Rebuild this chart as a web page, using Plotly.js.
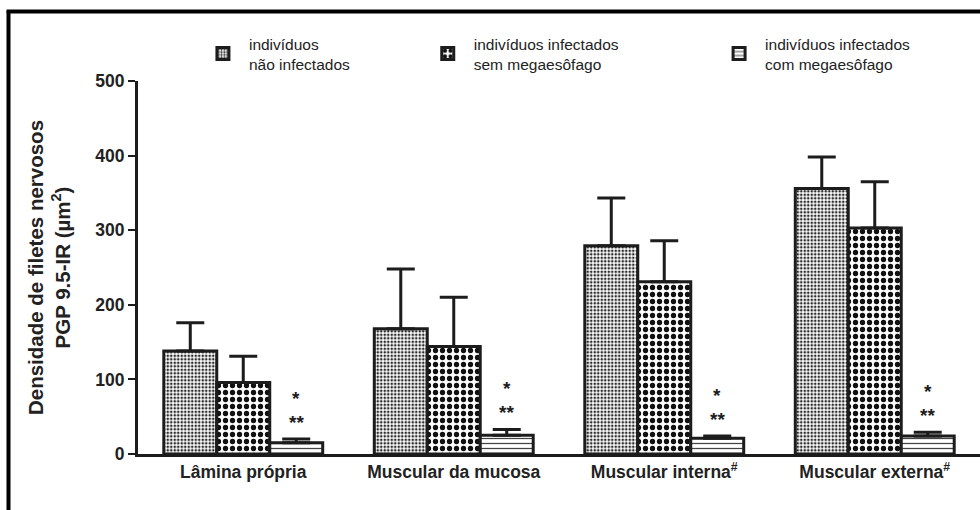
<!DOCTYPE html>
<html>
<head>
<meta charset="utf-8">
<script src="https://cdn.plot.ly/plotly-3.0.1.min.js"></script>
<style>
  html, body { margin: 0; padding: 0; background: #fff; }
  #chart { width: 980px; height: 510px; }
</style>
</head>
<body>
<div id="chart"></div>
<script>
// Regions of the esophageal wall
const categories = [
  'Lâmina própria',
  'Muscular da mucosa',
  'Muscular interna<sup>#</sup>',
  'Muscular externa<sup>#</sup>'
];

// Group names
const groupNames = [
  'indivíduos<br>não infectados',
  'indivíduos infectados<br>sem megaesôfago',
  'indivíduos infectados<br>com megaesôfago'
];

// Mean density of PGP 9.5-IR nerve fibres (µm²) and standard deviation
const naoInfectados = [138, 168, 279, 356];
const naoInfectadosSd = [38, 80, 64, 42];
const semMegaesofago = [96, 144, 231, 303];
const semMegaesofagoSd = [35, 66, 55, 62];
const comMegaesofago = [15, 25, 21, 24];
const comMegaesofagoSd = [5, 8, 3, 5];

// Significance marks over the megaesophagus group
const marksTop = ['*', '*', '*', '*'];
const marksBottom = ['**', '**', '**', '**'];

const yTicks = [0, 100, 200, 300, 400, 500];

const ink = '#1c1c1c';
const sans = 'Liberation Sans, Arial, sans-serif';
const outline = { color: ink, width: 3 };

function errorBars(sd) {
  return {
    type: 'data', symmetric: false, array: sd,
    arrayminus: sd.map(() => 0),
    color: ink, thickness: 3, width: 14
  };
}

const traces = [
  {
    type: 'bar', name: groupNames[0], x: categories, y: naoInfectados,
    error_y: errorBars(naoInfectadosSd),
    marker: {
      color: '#ffffff', line: outline,
      pattern: { shape: '.', size: 3.5, solidity: 0.45, fgcolor: '#2a2a2a', bgcolor: '#ffffff', fillmode: 'replace' }
    },
    legend: 'legend'
  },
  {
    type: 'bar', name: groupNames[1], x: categories, y: semMegaesofago,
    error_y: errorBars(semMegaesofagoSd),
    marker: {
      color: '#ffffff', line: outline,
      pattern: { shape: '.', size: 7, solidity: 0.45, fgcolor: '#111111', bgcolor: '#ffffff', fillmode: 'replace' }
    },
    legend: 'legend2'
  },
  {
    type: 'bar', name: groupNames[2], x: categories, y: comMegaesofago,
    error_y: errorBars(comMegaesofagoSd),
    marker: {
      color: '#ffffff', line: outline,
      pattern: { shape: '-', size: 5, solidity: 0.25, fgcolor: '#444444', bgcolor: '#ffffff', fillmode: 'replace' }
    },
    legend: 'legend3'
  }
];

// Asterisks sit above the third bar of each group
const barShift = 0.755 / 3;
const annotations = [];
categories.forEach((c, i) => {
  const top = comMegaesofago[i] + comMegaesofagoSd[i];
  annotations.push({
    x: i + barShift, y: top, xref: 'x', yref: 'y', text: marksTop[i],
    showarrow: false, yanchor: 'middle', yshift: 41,
    font: { family: sans, size: 19, color: ink, weight: 'bold' }
  });
  annotations.push({
    x: i + barShift, y: top, xref: 'x', yref: 'y', text: marksBottom[i],
    showarrow: false, yanchor: 'middle', yshift: 17,
    font: { family: sans, size: 19, color: ink, weight: 'bold' }
  });
});

const legendFont = { family: sans, size: 15.5, color: '#222' };
function legendAt(x) {
  return {
    x: x, y: 1.145, xanchor: 'left', yanchor: 'top', orientation: 'h',
    font: legendFont, bgcolor: 'rgba(0,0,0,0)', itemwidth: 42
  };
}

const layout = {
  width: 980, height: 510,
  margin: { l: 138, r: 0, t: 81, b: 56 },
  paper_bgcolor: '#ffffff', plot_bgcolor: '#ffffff',
  barmode: 'group', bargap: 0.245, bargroupgap: 0,
  showlegend: true,
  legend: legendAt(0.07),
  legend2: legendAt(0.337),
  legend3: legendAt(0.683),
  xaxis: {
    type: 'category', range: [-0.5, 3.5],
    showline: true, linecolor: ink, linewidth: 3,
    ticks: '', showgrid: false, zeroline: false,
    tickfont: { family: sans, size: 17.5, color: '#222', weight: 'bold' }
  },
  yaxis: {
    range: [0, 500], tickvals: yTicks, ticktext: yTicks.map(String),
    showline: true, linecolor: ink, linewidth: 3,
    ticks: 'outside', ticklen: 7, tickwidth: 2, tickcolor: ink,
    showgrid: false, zeroline: false,
    tickfont: { family: sans, size: 17.5, color: '#222', weight: 'bold' },
    title: {
      text: 'Densidade de filetes nervosos<br>PGP 9.5-IR (µm<sup>2</sup>)',
      font: { family: sans, size: 20.5, color: '#222', weight: 'bold' },
      standoff: 20
    }
  },
  annotations: annotations,
  shapes: [
    { type: 'line', xref: 'paper', yref: 'paper', x0: -0.156, x1: 1.01, y0: 1.1863, y1: 1.1863,
      line: { color: '#000', width: 4 } },
    { type: 'line', xref: 'paper', yref: 'paper', x0: -0.1538, x1: -0.1538, y0: -0.17, y1: 1.19,
      line: { color: '#000', width: 4 } }
  ]
};

Plotly.newPlot('chart', traces, layout, { staticPlot: true, displayModeBar: false });
</script>
</body>
</html>
